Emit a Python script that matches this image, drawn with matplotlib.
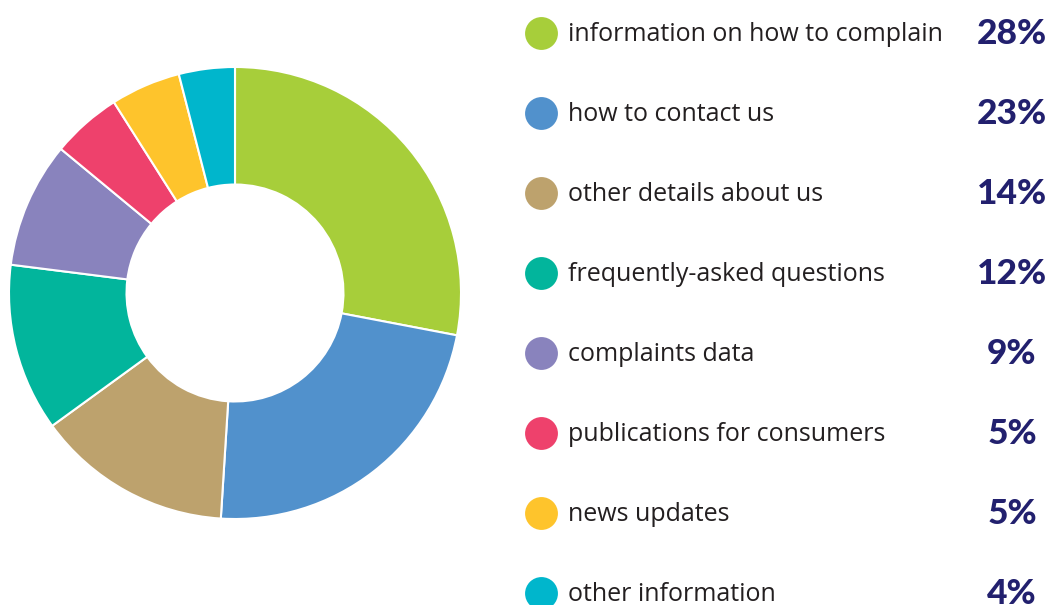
import matplotlib
matplotlib.use("Agg")
import matplotlib.pyplot as plt

categories = ["information on how to complain", "how to contact us",
              "other details about us", "frequently-asked questions",
              "complaints data", "publications for consumers",
              "news updates", "other information"]
values = [28, 23, 14, 12, 9, 5, 5, 4]
colors = ["#a7ce3a", "#5191cc", "#bda26d", "#02b59c",
          "#8983bd", "#ee416c", "#fec42c", "#00b6cc"]

W, H = 1052, 605
fig = plt.figure(figsize=(W / 100, H / 100), dpi=100)

# donut
ax = fig.add_axes([9 / W, (H - 519) / H, 452 / W, 452 / H])
ax.pie(values, colors=colors, startangle=90, counterclock=False,
       radius=1.0, wedgeprops=dict(width=0.52, edgecolor="white", linewidth=1.5))
ax.set_xlim(-1, 1)
ax.set_ylim(-1, 1)
ax.set_aspect("equal")
ax.axis("off")

# legend in pixel coordinates
lg = fig.add_axes([0, 0, 1, 1], zorder=-1)
lg.set_xlim(0, W)
lg.set_ylim(H, 0)
lg.axis("off")
for i, (cat, val, col) in enumerate(zip(categories, values, colors)):
    y = 33 + i * 80
    lg.scatter([541], [y], s=560, color=col, linewidths=0)
    lg.text(568, y + 1.5, cat, fontsize=18, color="#231f20", va="center", ha="left",
            family="Open Sans")
    lg.text(1012, y + 1, f"{val}%", fontsize=25.5, color="#22206e", va="center",
            ha="center", family="Lato", fontweight="black")

fig.savefig("out.png", dpi=100)
